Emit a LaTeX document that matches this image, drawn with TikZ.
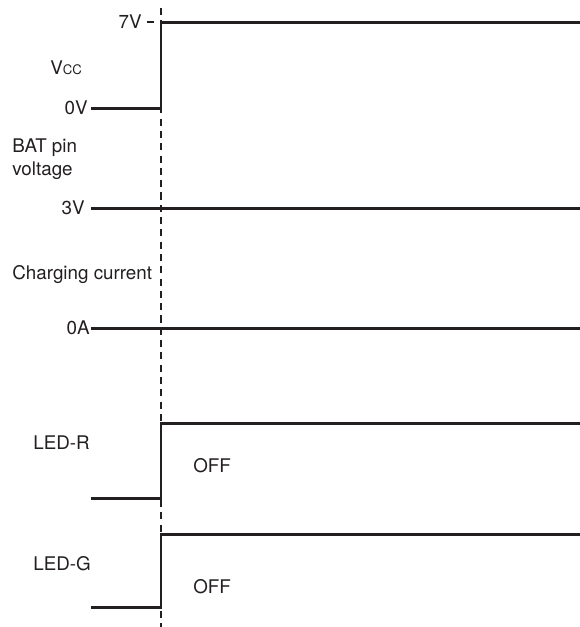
\documentclass[tikz,border=0pt]{standalone}
\usepackage{fontspec}
\setmainfont{TeX Gyre Heros}
\usepackage{xcolor}
\definecolor{wave}{RGB}{35,31,32}
\usetikzlibrary{positioning}

\begin{document}
\begin{tikzpicture}[
  x=0.02cm, y=-0.02cm,
  lbl/.style={font=\fontsize{10.7}{12.8}\selectfont, text=wave, inner sep=0pt},
  sig/.style={line width=1.7pt, draw=wave, line join=miter},
  marker/.style={line width=0.6pt, draw=wave, dash pattern=on 4pt off 3pt}
]
  \useasboundingbox (0,0) rectangle (580,627);

  % time marker
  \coordinate (ttop) at (161,8);
  \coordinate (tbot) at (161,627);
  \draw[marker] (ttop) -- (tbot);

  % Vcc
  \node[lbl,anchor=west] (vcc) at (50,68) {V\fontsize{7.5}{8}\selectfont CC};
  \node[lbl,anchor=east] (v7) at (142,22) {7V};
  \node[lbl,anchor=east] (v0) at (88,108) {0V};
  \coordinate (v7t) at (147,22);
  \coordinate (v7e) at (154,22);
  \draw[line width=0.6pt,draw=wave] (v7t) -- (v7e);
  \coordinate (vccA) at (91,108);
  \coordinate (vccB) at (161,108);
  \coordinate (vccC) at (161,22);
  \coordinate (vccD) at (580,22);
  \draw[sig] (vccA) -- (vccB) -- (vccC) -- (vccD);

  % BAT pin voltage
  \node[lbl,anchor=west,align=left] (bat) at (12,159) {BAT pin\\voltage};
  \node[lbl,anchor=east] (v3) at (85,208) {3V};
  \coordinate (batA) at (91,208);
  \coordinate (batB) at (580,208);
  \draw[sig] (batA) -- (batB);

  % Charging current
  \node[lbl,anchor=west] (chg) at (12,275) {Charging current};
  \node[lbl,anchor=east] (a0) at (90,328) {0A};
  \coordinate (chgA) at (91,328);
  \coordinate (chgB) at (580,328);
  \draw[sig] (chgA) -- (chgB);

  % LED-R
  \node[lbl,anchor=west] (ledr) at (33,443) {LED-R};
  \node[lbl,anchor=west] (offr) at (193,466) {OFF};
  \coordinate (ledrA) at (91,498);
  \coordinate (ledrB) at (161,498);
  \coordinate (ledrC) at (161,423);
  \coordinate (ledrD) at (580,423);
  \draw[sig] (ledrA) -- (ledrB) -- (ledrC) -- (ledrD);

  % LED-G
  \node[lbl,anchor=west] (ledg) at (33,564) {LED-G};
  \node[lbl,anchor=west] (offg) at (193,587) {OFF};
  \coordinate (ledgA) at (91,607);
  \coordinate (ledgB) at (161,607);
  \coordinate (ledgC) at (161,534);
  \coordinate (ledgD) at (580,534);
  \draw[sig] (ledgA) -- (ledgB) -- (ledgC) -- (ledgD);
\end{tikzpicture}
\end{document}
